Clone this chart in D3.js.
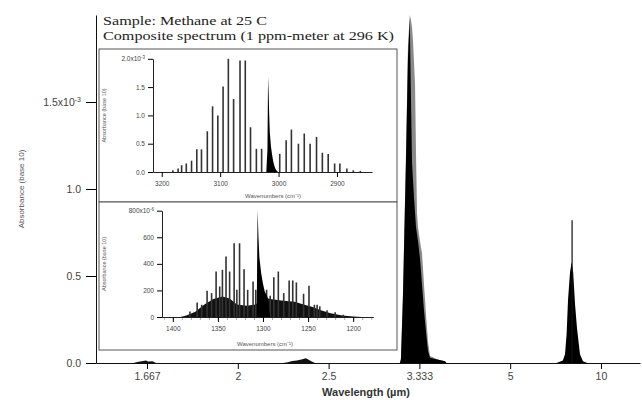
<!DOCTYPE html>
<html>
<head>
<meta charset="utf-8">
<script src="https://cdn.jsdelivr.net/npm/d3@7"></script>
<style>
body { margin: 0; background: #fff; }
text { font-family: "Liberation Sans", Arial, sans-serif; }
</style>
</head>
<body>
<div id="chart"></div>
<script>
// main axis: wavenumber positions, labelled as wavelength (um)
var mainTickNu = [6000, 5000, 4000, 3000, 2000, 1000];
var mainTickLabels = ["1.667", "2", "2.5", "3.333", "5", "10"];
var mainYTicks = [0, 0.5, 1.0, 1.5];            // x10^-3
var mainYLabels = ["0.0", "0.5", "1.0", "1.5x10"];

// main spectrum envelopes [wavenumber cm-1, absorbance x10^-3]
var overtoneBand = [[6150, 0], [6120, 0.005], [6060, 0.01], [6010, 0.015], [5990, 0.008], [5940, 0.01], [5900, 0]];
var combBand = [[4500, 0], [4450, 0.005], [4400, 0.012], [4350, 0.015], [4300, 0.02], [4250, 0.028], [4230, 0.022], [4190, 0.01], [4150, 0]];
var nu3Gray = [[3215, 0], [3203, 0.03], [3181, 0.4], [3148, 1.2], [3126, 1.82], [3106, 2.0], [3092, 1.97], [3081, 1.93], [3070, 1.85],
    [3048, 1.6], [3037, 1.2], [3026, 0.86], [3015, 0.78], [2993, 0.7], [2971, 0.63], [2949, 0.45], [2927, 0.28], [2905, 0.12],
    [2883, 0.04], [2800, 0.02], [2718, 0.01], [2700, 0]];
var nu3Black = [[3215, 0], [3203, 0.02], [3181, 0.38], [3148, 1.15], [3126, 1.75], [3106, 1.98], [3095, 1.6], [3081, 1.15],
    [3059, 0.95], [3037, 0.78], [3015, 0.7], [2993, 0.6], [2971, 0.45], [2949, 0.3], [2927, 0.18], [2905, 0.07],
    [2883, 0.03], [2800, 0.02], [2718, 0.01], [2700, 0]];
var nu4Black = [[1490, 0], [1420, 0.015], [1396, 0.05], [1378, 0.17], [1363, 0.36], [1341, 0.52], [1323, 0.58], [1306, 0.52],
    [1286, 0.34], [1264, 0.2], [1231, 0.05], [1198, 0.01], [1150, 0]];
var nu4Peak = [[1318, 0.82]];

// inset 1 (nu3 band, 3215-2840 cm-1)
var inset1Ticks = [3200, 3100, 3000, 2900];
var inset1YTicks = [0, 0.5, 1.0, 1.5, 2.0];
var inset1YLabels = ["0.0", "0.5", "1.0", "1.5", "2.0x10"];
var inset1Lines = [[3181, 0.03], [3172, 0.06], [3166, 0.12], [3158, 0.15], [3149, 0.2], [3140, 0.4], [3132, 0.4],
    [3122, 0.72], [3113, 1.16], [3104, 1.0], [3095, 1.51], [3086, 2.0], [3077, 1.29], [3066, 1.97], [3057, 1.97],
    [3048, 0.79], [3038, 0.41], [3029, 0.41],
    [2998, 0.32], [2987, 0.56], [2978, 0.75], [2966, 0.5], [2956, 0.68], [2946, 0.5], [2935, 0.62], [2925, 0.34],
    [2915, 0.32], [2904, 0.15], [2895, 0.15], [2883, 0.06], [2872, 0.03], [2860, 0.02]];
var inset1Q = [[3021, 0], [3019, 0.4], [3018, 1.68], [3017, 1.4], [3016, 1.0], [3015, 0.7], [3013, 0.45], [3011, 0.3],
    [3009, 0.18], [3007, 0.1], [3005, 0.05], [3003, 0.02], [3001, 0]];

// inset 2 (nu4 band, 1412-1178 cm-1), absorbance x10^-6
var inset2Ticks = [1400, 1350, 1300, 1250, 1200];
var inset2YTicks = [0, 200, 400, 600, 800];
var inset2YLabels = ["0", "200", "400", "600", "800x10"];
var inset2Lines = [[1381, 42], [1373, 110], [1368, 92], [1362, 197], [1357, 180], [1352, 342], [1348, 230], [1345, 355],
    [1341, 455], [1337, 342], [1332, 555], [1329, 205], [1326, 555], [1321, 360], [1317, 205], [1311, 267], [1308, 205],
    [1296, 205], [1292, 160], [1288, 300], [1283, 342], [1277, 180], [1271, 275], [1267, 275], [1263, 260], [1255, 175],
    [1249, 235], [1243, 92], [1240, 92], [1237, 80], [1229, 50], [1220, 35], [1211, 17]];
var inset2Q = [[1307, 0], [1306, 805], [1305, 600], [1304, 450], [1302, 330], [1300, 250], [1298, 190], [1295, 150], [1292, 0]];
var inset2Dense = [[1392, 0], [1385, 12], [1375, 40], [1365, 95], [1355, 135], [1345, 155], [1337, 140], [1329, 95],
    [1318, 85], [1308, 95], [1300, 150], [1292, 135], [1280, 125], [1265, 115], [1255, 95], [1245, 75], [1235, 48],
    [1225, 28], [1212, 12], [1200, 4], [1190, 0]];

var W = 642, H = 400;

var svg = d3.select("#chart").append("svg")
    .attr("width", W)
    .attr("height", H)
    .style("background", "#fff");

// ---------- main chart ----------
var x = d3.scaleLinear().domain([6562, 570]).range([96, 640]);
var y = d3.scaleLinear().domain([0, 2.0]).range([363, 15]);

function areaFor(xs, ys) {
    return d3.area()
        .x(function (d) { return xs(d[0]); })
        .y0(ys(0))
        .y1(function (d) { return ys(d[1]); });
}

var mainArea = areaFor(x, y);
svg.append("path").datum(overtoneBand).attr("d", mainArea).attr("fill", "#111");
svg.append("path").datum(combBand).attr("d", mainArea).attr("fill", "#111");
svg.append("path").datum(nu3Gray).attr("d", mainArea).attr("fill", "#8a8a8a");
svg.append("path").datum(nu3Black).attr("d", mainArea).attr("fill", "#000");
svg.append("path").datum(nu4Black).attr("d", mainArea).attr("fill", "#000");
svg.selectAll(".spike").data(nu4Peak).enter().append("line")
    .attr("class", "spike")
    .attr("x1", function (d) { return x(d[0]); })
    .attr("x2", function (d) { return x(d[0]); })
    .attr("y1", y(0))
    .attr("y2", function (d) { return y(d[1]); })
    .attr("stroke", "#111").attr("stroke-width", 1.2);

var xAxis = d3.axisBottom(x)
    .tickValues(mainTickNu)
    .tickSize(6).tickSizeOuter(0).tickPadding(4)
    .tickFormat(function (d, i) { return mainTickLabels[i]; });
var gx = svg.append("g").attr("transform", "translate(0," + y(0) + ")").call(xAxis);
gx.selectAll("text").attr("font-size", 10.5).attr("fill", "#444");

var yAxis = d3.axisLeft(y)
    .tickValues(mainYTicks)
    .tickSize(10).tickSizeOuter(0).tickPadding(5)
    .tickFormat(function (d, i) { return mainYLabels[i]; });
var gy = svg.append("g").attr("transform", "translate(96,0)").call(yAxis);
gy.selectAll("text").attr("font-size", 10.5).attr("fill", "#444");
gy.selectAll(".tick:last-of-type text").append("tspan")
    .attr("dy", "-0.5em").attr("font-size", 7).text("-3");
svg.selectAll(".domain").attr("stroke", "#111");

svg.append("text")
    .attr("transform", "translate(24,189) rotate(-90)")
    .attr("text-anchor", "middle")
    .attr("font-size", 8).attr("fill", "#555")
    .text("Absorbance (base 10)");

svg.append("text")
    .attr("x", 366).attr("y", 396)
    .attr("text-anchor", "middle")
    .attr("font-size", 11).attr("font-weight", "bold").attr("fill", "#333")
    .text("Wavelength (\u00b5m)");

// ---------- inset panel ----------
svg.append("rect").attr("x", 99).attr("y", 14).attr("width", 298).attr("height", 35).attr("fill", "#fff");
svg.append("text").attr("x", 103).attr("y", 25)
    .style("font-family", "'Liberation Serif', 'Times New Roman', serif")
    .attr("font-size", 13.5).attr("fill", "#222")
    .attr("textLength", 164).attr("lengthAdjust", "spacingAndGlyphs")
    .text("Sample: Methane at 25 C");
svg.append("text").attr("x", 103).attr("y", 40)
    .style("font-family", "'Liberation Serif', 'Times New Roman', serif")
    .attr("font-size", 13.5).attr("fill", "#222")
    .attr("textLength", 291).attr("lengthAdjust", "spacingAndGlyphs")
    .text("Composite spectrum (1 ppm-meter at 296 K)");

svg.append("rect").attr("x", 99).attr("y", 49).attr("width", 298).attr("height", 153)
    .attr("fill", "#fff").attr("stroke", "#555").attr("stroke-width", 1);
svg.append("rect").attr("x", 99).attr("y", 202).attr("width", 298).attr("height", 148)
    .attr("fill", "#fff").attr("stroke", "#555").attr("stroke-width", 1);

function drawInset(opts) {
    var xs = d3.scaleLinear().domain(opts.xDomain).range(opts.xRange);
    var ys = d3.scaleLinear().domain(opts.yDomain).range(opts.yRange);
    var g = svg.append("g");

    if (opts.dense) {
        g.append("path").datum(opts.dense).attr("d", areaFor(xs, ys)).attr("fill", "#111");
    }
    g.selectAll(".stick").data(opts.lines).enter().append("line")
        .attr("class", "stick")
        .attr("x1", function (d) { return xs(d[0]); })
        .attr("x2", function (d) { return xs(d[0]); })
        .attr("y1", ys(0))
        .attr("y2", function (d) { return ys(d[1]); })
        .attr("stroke", "#333").attr("stroke-width", 1.6);
    g.append("path").datum(opts.q).attr("d", areaFor(xs, ys)).attr("fill", "#000");

    // minor ticks along the bottom
    if (opts.minor) {
        g.append("g").attr("transform", "translate(0," + ys(0) + ")")
            .call(d3.axisBottom(xs).ticks(opts.minor).tickSize(3).tickSizeOuter(0).tickFormat(""))
            .selectAll("line").attr("stroke", "#aaa");
    }

    var ax = g.append("g").attr("transform", "translate(0," + ys(0) + ")")
        .call(d3.axisBottom(xs).tickValues(opts.xTicks).tickSize(5).tickSizeOuter(0).tickPadding(4)
            .tickFormat(d3.format("d")));
    ax.selectAll("text").attr("font-size", 6.5).attr("fill", "#444");

    var ay = g.append("g").attr("transform", "translate(" + opts.xRange[0] + ",0)")
        .call(d3.axisLeft(ys).tickValues(opts.yTicks).tickSize(5).tickSizeOuter(0).tickPadding(3)
            .tickFormat(function (d, i) { return opts.yLabels[i]; }));
    ay.selectAll("text").attr("font-size", 6.5).attr("fill", "#444");
    ay.selectAll(".tick:last-of-type text").append("tspan")
        .attr("dy", "-0.5em").attr("font-size", 4.5).text(opts.exp);
    g.selectAll(".domain").attr("stroke", "#222");

    g.append("text")
        .attr("transform", "translate(106," + ((opts.yRange[0] + opts.yRange[1]) / 2) + ") rotate(-90)")
        .attr("text-anchor", "middle").attr("font-size", 5.5).attr("fill", "#555")
        .text("Absorbance (base 10)");
    g.append("text")
        .attr("x", opts.titleX).attr("y", opts.titleY)
        .attr("text-anchor", "middle").attr("font-size", 6).attr("fill", "#555")
        .text("Wavenumbers (cm\u207b\u00b9)");
}

drawInset({
    xDomain: [3215, 2840], xRange: [153, 372],
    yDomain: [0, 2.0], yRange: [172, 58.8],
    xTicks: inset1Ticks, yTicks: inset1YTicks, yLabels: inset1YLabels, exp: "-3",
    lines: inset1Lines, q: inset1Q, minor: 0,
    titleX: 273, titleY: 198
});

drawInset({
    xDomain: [1412, 1178], xRange: [162, 373],
    yDomain: [0, 800], yRange: [317, 210.7],
    xTicks: inset2Ticks, yTicks: inset2YTicks, yLabels: inset2YLabels, exp: "-6",
    lines: inset2Lines, q: inset2Q, dense: inset2Dense, minor: 25,
    titleX: 265, titleY: 346
});
</script>
</body>
</html>
